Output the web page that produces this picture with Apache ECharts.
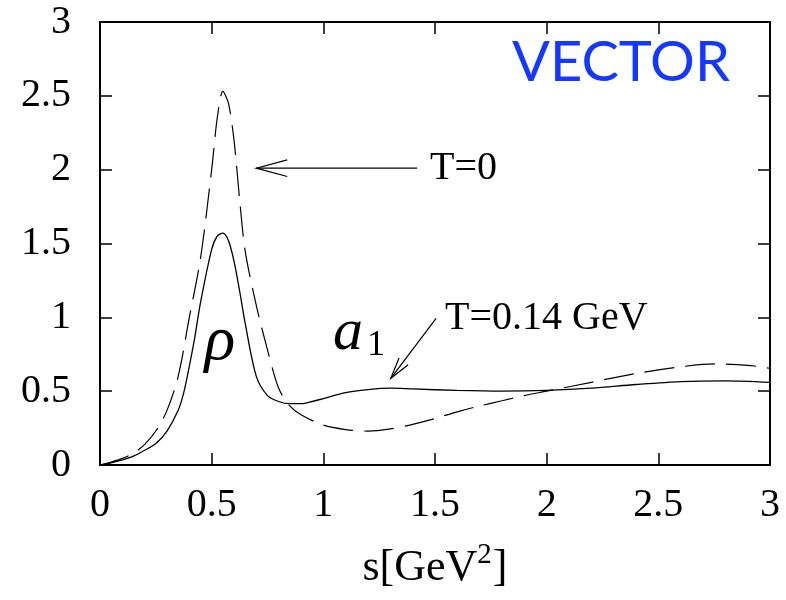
<!DOCTYPE html>
<html>
<head>
	<meta charset="utf-8">
	<title>VECTOR</title>
	<style type="text/css">
		body{
			margin: 0px;
			background: #fff;
		}
		.chart{
			width: 786px;
			height: 600px;
		}
	</style>
	<script type="text/javascript" src="https://cdn.jsdelivr.net/npm/echarts@6/dist/echarts.min.js"></script>
</head>
<body>
	<div id="chart" class="chart"></div>
	<script type="text/javascript">
		// s in GeV^2
		var sHot = [0, 0.05, 0.1, 0.15, 0.2, 0.25, 0.3, 0.35, 0.375, 0.4, 0.425, 0.45, 0.5, 0.525, 0.55, 0.575, 0.6, 0.625, 0.65, 0.7, 0.75, 0.8, 0.85, 0.9, 0.95, 1.0, 1.1, 1.2, 1.3, 1.4, 1.6, 1.8, 2.0, 2.2, 2.4, 2.6, 2.8, 3.0];
		var hotValues = [0, 0.015, 0.035, 0.06, 0.1, 0.145, 0.23, 0.37, 0.49, 0.67, 0.87, 1.1, 1.46, 1.55, 1.57, 1.52, 1.38, 1.18, 0.96, 0.6, 0.47, 0.43, 0.415, 0.415, 0.43, 0.45, 0.49, 0.51, 0.52, 0.515, 0.505, 0.5, 0.505, 0.52, 0.545, 0.565, 0.57, 0.56];

		var sCold = [0, 0.05, 0.1, 0.15, 0.2, 0.25, 0.3, 0.35, 0.4, 0.45, 0.5, 0.525, 0.55, 0.575, 0.6, 0.625, 0.65, 0.7, 0.75, 0.8, 0.85, 0.9, 1.0, 1.1, 1.2, 1.3, 1.4, 1.5, 1.6, 1.7, 1.8, 1.9, 2.0, 2.2, 2.4, 2.6, 2.75, 2.9, 3.0];
		var coldValues = [0, 0.02, 0.045, 0.08, 0.14, 0.23, 0.37, 0.6, 1.0, 1.4, 2.0, 2.35, 2.53, 2.45, 2.2, 1.8, 1.45, 1.08, 0.78, 0.52, 0.4, 0.34, 0.27, 0.24, 0.23, 0.245, 0.275, 0.315, 0.36, 0.4, 0.435, 0.47, 0.5, 0.56, 0.62, 0.665, 0.685, 0.675, 0.655];

		var xTicks = [0, 0.5, 1, 1.5, 2, 2.5, 3];
		var yTicks = [0, 0.5, 1, 1.5, 2, 2.5, 3];

		// annotations, in data units [s, value]
		var arrowCold = [[1.42, 2.01], [0.70, 2.01]];
		var arrowHot = [[1.505, 0.993], [1.302, 0.587]];
		var labelCold = {text: 'T=0', at: [1.478, 2.01]};
		var labelHot = {text: 'T=0.14 GeV', at: [1.545, 0.995]};
		var labelRho = {text: 'ρ', at: [0.537, 0.83]};
		var labelA1 = {text: 'a', sub: '1', at: [1.043, 0.89]};
		var labelTitle = {text: 'VECTOR', at: [1.845, 2.724]};

		function pairs(xs, ys){
			return xs.map(function(x, i){
				return [x, ys[i]];
			});
		}

		var serif = 'Liberation Serif';

		window.onload = function(){
			var chart = echarts.init(document.getElementById('chart'));
			var tickStyle = {show: true, inside: true, length: 12, lineStyle: {color: '#000', width: 1.5}};
			chart.setOption({
				animation: false,
				backgroundColor: '#fff',
				grid: {
					left: 100,
					right: 16,
					top: 22,
					bottom: 135
				},
				xAxis: [{
					type: 'value',
					min: xTicks[0],
					max: xTicks[xTicks.length - 1],
					interval: 0.5,
					name: '{n|s[GeV}{sup|2}{n|]}',
					nameLocation: 'middle',
					nameGap: 76,
					nameTextStyle: {
						rich: {
							n: {fontFamily: serif, fontSize: 44, lineHeight: 54, color: '#000'},
							sup: {fontFamily: serif, fontSize: 29, lineHeight: 29, color: '#000', verticalAlign: 'top', padding: [0, 1, 0, 0]}
						}
					},
					axisLine: {onZero: false, lineStyle: {color: '#000', width: 2}},
					axisTick: tickStyle,
					splitLine: {show: false},
					axisLabel: {
						fontFamily: serif,
						fontSize: 40,
						color: '#000',
						margin: 20,
						formatter: function(v){ return String(v); }
					}
				}, {
					type: 'value',
					position: 'top',
					min: xTicks[0],
					max: xTicks[xTicks.length - 1],
					interval: 0.5,
					axisLine: {onZero: false, lineStyle: {color: '#000', width: 2}},
					axisTick: tickStyle,
					splitLine: {show: false},
					axisLabel: {show: false}
				}],
				yAxis: [{
					type: 'value',
					min: yTicks[0],
					max: yTicks[yTicks.length - 1],
					interval: 0.5,
					axisLine: {show: true, onZero: false, lineStyle: {color: '#000', width: 2}},
					axisTick: tickStyle,
					splitLine: {show: false},
					axisLabel: {
						fontFamily: serif,
						fontSize: 40,
						color: '#000',
						margin: 29,
						formatter: function(v){ return String(v); }
					}
				}, {
					type: 'value',
					position: 'right',
					min: yTicks[0],
					max: yTicks[yTicks.length - 1],
					interval: 0.5,
					axisLine: {show: true, onZero: false, lineStyle: {color: '#000', width: 2}},
					axisTick: tickStyle,
					splitLine: {show: false},
					axisLabel: {show: false}
				}],
				series: [{
					name: 'T=0',
					type: 'line',
					data: pairs(sCold, coldValues),
					smooth: 0.3,
					showSymbol: false,
					lineStyle: {color: '#000', width: 1.2, type: [30, 11]}
				}, {
					name: 'T=0.14 GeV',
					type: 'line',
					data: pairs(sHot, hotValues),
					smooth: 0.3,
					showSymbol: false,
					lineStyle: {color: '#000', width: 1.3}
				}]
			});

			function px(p){
				return chart.convertToPixel({gridIndex: 0}, p);
			}

			function arrow(pts, headLen){
				var a = px(pts[0]), b = px(pts[1]);
				var ang = Math.atan2(a[1] - b[1], a[0] - b[0]);
				var spread = 15 * Math.PI / 180;
				var w1 = [b[0] + headLen * Math.cos(ang + spread), b[1] + headLen * Math.sin(ang + spread)];
				var w2 = [b[0] + headLen * Math.cos(ang - spread), b[1] + headLen * Math.sin(ang - spread)];
				return [{
					type: 'polyline',
					shape: {points: [a, b]},
					style: {stroke: '#000', lineWidth: 1.2, fill: null}
				}, {
					type: 'polyline',
					shape: {points: [w1, b, w2]},
					style: {stroke: '#000', lineWidth: 1.2, fill: null}
				}];
			}

			function label(item, font, size, style, color){
				var p = px(item.at);
				return {
					type: 'text',
					x: p[0],
					y: p[1],
					style: {
						text: item.text,
						font: style + ' ' + size + 'px "' + font + '"',
						fill: color || '#000',
						align: 'left',
						verticalAlign: 'middle'
					}
				};
			}

			var a1 = px(labelA1.at);
			var graphics = []
				.concat(arrow(arrowCold, 32))
				.concat(arrow(arrowHot, 22))
				.concat([
					label(labelCold, serif, 40, 'normal'),
					label(labelHot, serif, 40, 'normal'),
					{
						type: 'text',
						x: px(labelRho.at)[0],
						y: px(labelRho.at)[1],
						style: {
							text: labelRho.text,
							font: 'italic 64px "' + serif + '"',
							fill: '#000',
							align: 'center',
							verticalAlign: 'middle'
						}
					},
					label(labelA1, serif, 60, 'italic'),
					{
						type: 'text',
						x: a1[0] + 34,
						y: a1[1] + 12,
						style: {
							text: labelA1.sub,
							font: '36px "' + serif + '"',
							fill: '#000',
							align: 'left',
							verticalAlign: 'middle'
						}
					},
					label(labelTitle, 'Lato', 56, 'normal', '#1438ff')
				]);
			chart.setOption({graphic: graphics});
		}
	</script>
</body>
</html>
